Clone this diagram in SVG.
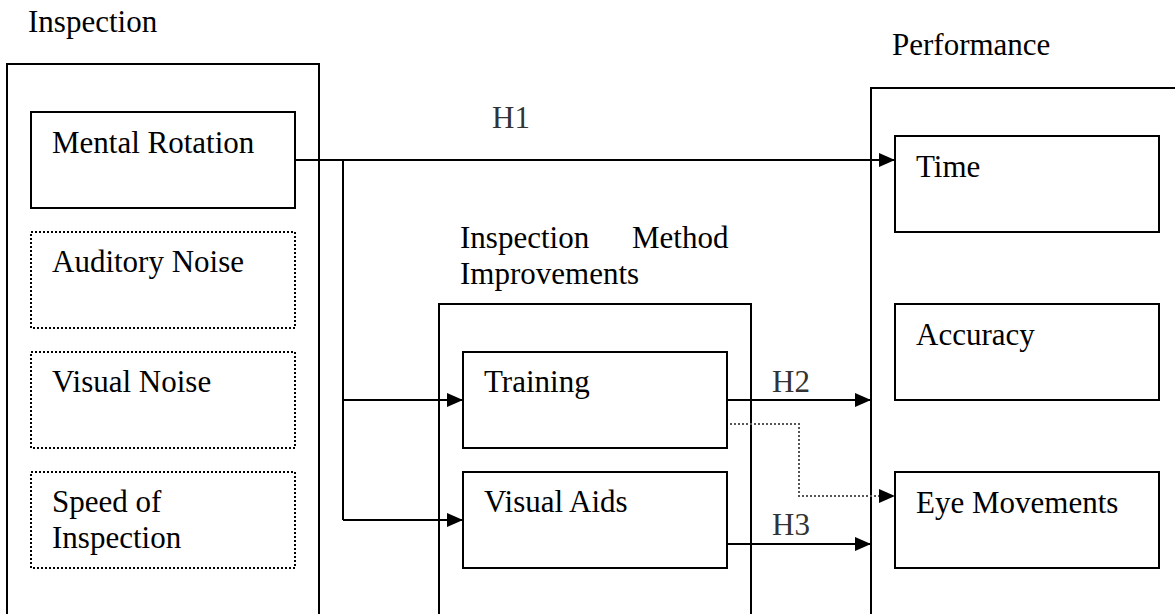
<svg xmlns="http://www.w3.org/2000/svg" width="1175" height="614" viewBox="0 0 1175 614" font-family="'Liberation Serif', 'Times New Roman', Times, 'DejaVu Serif', serif">
<style>
text{font-family:'Liberation Serif','Times New Roman',Times,'DejaVu Serif',serif;font-size:31px;fill:#000}
.box{fill:none;stroke:#000;stroke-width:2}
.dot{fill:none;stroke:#000;stroke-width:2;stroke-dasharray:2 2}
.ln{fill:none;stroke:#000;stroke-width:2}
.dl{fill:none;stroke:#555;stroke-width:2;stroke-dasharray:2 2}
.lbl{fill:#333}
</style>
<defs>
<marker id="ah" markerUnits="userSpaceOnUse" markerWidth="16" markerHeight="14" refX="16" refY="7" orient="auto">
<path d="M0,0 L16,7 L0,14 z" fill="#000"/>
</marker>
</defs>
<rect width="1175" height="614" fill="#fff"/>
<g id="inspection">
<text x="28" y="32">Inspection</text>
<rect class="box" x="7" y="64" width="312" height="570"/>
</g>
<g id="mental-rotation">
<rect class="box" x="31" y="112" width="264" height="96"/>
<text x="52" y="153">Mental Rotation</text>
</g>
<g id="auditory-noise">
<rect class="dot" x="31" y="232" width="264" height="96"/>
<text x="52" y="272">Auditory Noise</text>
</g>
<g id="visual-noise">
<rect class="dot" x="31" y="352" width="264" height="96"/>
<text x="52" y="392">Visual Noise</text>
</g>
<g id="speed-of-inspection">
<rect class="dot" x="31" y="472" width="264" height="96"/>
<text x="52" y="512">Speed of</text>
<text x="52" y="548">Inspection</text>
</g>
<g id="improvements">
<text x="460" y="248">Inspection</text>
<text x="632" y="248">Method</text>
<text x="460" y="284">Improvements</text>
<rect class="box" x="439" y="304" width="312" height="330"/>
</g>
<g id="training">
<rect class="box" x="463" y="352" width="264" height="96"/>
<text x="484" y="392">Training</text>
</g>
<g id="visual-aids">
<rect class="box" x="463" y="472" width="264" height="96"/>
<text x="484" y="512">Visual Aids</text>
</g>
<g id="performance">
<text x="892" y="55">Performance</text>
<rect class="box" x="871" y="88" width="320" height="560"/>
</g>
<g id="time">
<rect class="box" x="895" y="136" width="264" height="96"/>
<text x="916" y="177">Time</text>
</g>
<g id="accuracy">
<rect class="box" x="895" y="304" width="264" height="96"/>
<text x="916" y="345">Accuracy</text>
</g>
<g id="eye-movements">
<rect class="box" x="895" y="472" width="264" height="96"/>
<text x="916" y="513">Eye Movements</text>
</g>
<g id="connectors">
<path class="ln" d="M295,160 H895" marker-end="url(#ah)"/>
<path class="ln" d="M343,160 V520"/>
<path class="ln" d="M343,400 H463" marker-end="url(#ah)"/>
<path class="ln" d="M343,520 H463" marker-end="url(#ah)"/>
<path class="ln" d="M727,400 H871" marker-end="url(#ah)"/>
<path class="ln" d="M727,544 H871" marker-end="url(#ah)"/>
<path class="dl" d="M730,424 H799 V496 H880"/>
<path d="M879,489 L895,496 L879,503 z" fill="#000"/>
<text class="lbl" x="492" y="128">H1</text>
<text class="lbl" x="772" y="392">H2</text>
<text class="lbl" x="772" y="535">H3</text>
</g>
</svg>
